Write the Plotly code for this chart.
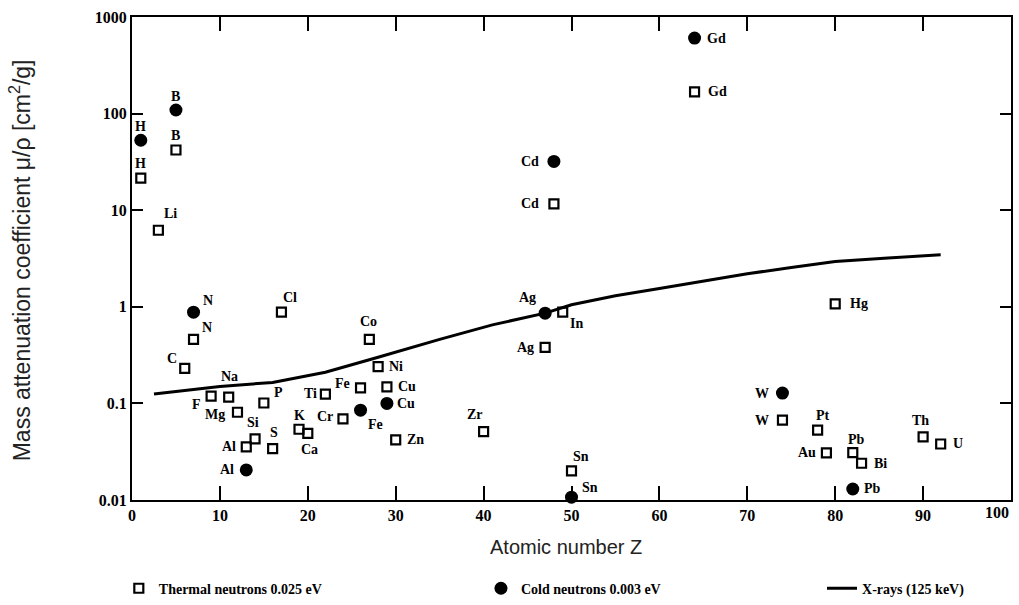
import numpy as np
import plotly.graph_objects as go

# Thermal neutrons (0.025 eV): element, atomic number, mass attenuation coefficient [cm^2/g]
thermal_el = ["H", "Li", "B", "C", "N", "F", "Na", "Mg", "Al", "Si", "P", "S", "Cl", "K", "Ca",
              "Ti", "Cr", "Fe", "Co", "Ni", "Cu", "Zn", "Zr", "Ag", "Cd", "In", "Sn", "Gd",
              "W", "Pt", "Au", "Hg", "Pb", "Bi", "Th", "U"]
thermal_z = [1, 3, 5, 6, 7, 9, 11, 12, 13, 14, 15, 16, 17, 19, 20,
             22, 24, 26, 27, 28, 29, 30, 40, 47, 48, 49, 50, 64,
             74, 78, 79, 80, 82, 83, 90, 92]
thermal_mu = [21.5, 6.2, 42, 0.23, 0.46, 0.119, 0.116, 0.081, 0.0354, 0.043, 0.101, 0.034, 0.88, 0.054, 0.049,
              0.125, 0.069, 0.145, 0.46, 0.24, 0.148, 0.042, 0.051, 0.38, 11.6, 0.88, 0.020, 168,
              0.067, 0.053, 0.0307, 1.07, 0.031, 0.024, 0.045, 0.038]

# Cold neutrons (0.003 eV)
cold_el = ["H", "B", "N", "Al", "Fe", "Cu", "Ag", "Cd", "Sn", "Gd", "W", "Pb"]
cold_z = [1, 5, 7, 13, 26, 29, 47, 48, 50, 64, 74, 82]
cold_mu = [53, 109, 0.88, 0.0205, 0.085, 0.10, 0.86, 32, 0.0107, 605, 0.128, 0.013]

# X-rays (125 keV) attenuation curve
xray_z = [2.5, 10, 16, 22, 28, 35, 41, 47, 50, 55, 60, 65, 70, 75, 80, 86, 92]
xray_mu = [0.125, 0.15, 0.165, 0.21, 0.30, 0.46, 0.65, 0.86, 1.05, 1.3, 1.55, 1.85, 2.2, 2.55, 2.95, 3.2, 3.45]

# Axis tick labels
x_tickvals = [0, 10, 20, 30, 40, 50, 60, 70, 80, 90]
x_last_label = 100
y_tickvals = [0.01, 0.1, 1, 10, 100, 1000]
y_ticktext = ["0.01", "0.1", "1", "10", "100", "1000"]

# Element-label placement (pixel offsets from each marker: right, down)
thermal_off = {
    "H": (0, -15), "Li": (12, -17), "B": (0, -14), "C": (-13, -10), "N": (13, -12),
    "F": (-15, 8), "Na": (1, -21), "Mg": (-22, 2), "Al": (-17, 0), "Si": (-2, -16),
    "P": (15, -10), "S": (1, -16), "Cl": (9, -15), "K": (0, -14), "Ca": (2, 16),
    "Ti": (-15, -1), "Cr": (-18, -2), "Fe": (-18, -4), "Co": (-1, -18), "Ni": (18, 0),
    "Cu": (20, 0), "Zn": (20, 0), "Zr": (-9, -17), "Ag": (-20, 0), "Cd": (-24, 0),
    "In": (14, 11), "Sn": (9, -14), "Gd": (23, 0), "W": (-20, 0), "Pt": (5, -15),
    "Au": (-19, 0), "Hg": (24, 0), "Pb": (4, -13), "Bi": (19, 0), "Th": (-3, -16),
    "U": (17, 0),
}
cold_off = {
    "H": (0, -14), "B": (0, -13), "N": (14, -12), "Al": (-19, 0), "Fe": (15, 14),
    "Cu": (19, 0), "Ag": (-18, -16), "Cd": (-24, 0), "Sn": (18, -10), "Gd": (22, 0),
    "W": (-20, 0), "Pb": (20, 0),
}

SERIF = "Liberation Serif"
SANS = "Liberation Sans"
LEG_FONT = dict(family=SERIF, size=14, color="black", weight="bold")

fig = go.Figure()

fig.add_trace(go.Scatter(
    x=thermal_z, y=thermal_mu, mode="markers", name="Thermal neutrons 0.025 eV",
    marker=dict(symbol="square-open", size=9, color="black", line=dict(width=2.2, color="black")),
    cliponaxis=False, legend="legend",
))
fig.add_trace(go.Scatter(
    x=cold_z, y=cold_mu, mode="markers", name="Cold neutrons 0.003 eV",
    marker=dict(symbol="circle", size=13, color="black"),
    cliponaxis=False, legend="legend2",
))
fig.add_trace(go.Scatter(
    x=xray_z, y=xray_mu, mode="lines", name="X-rays (125 keV)",
    line=dict(color="black", width=3), legend="legend3",
))

annotations = []
for names, zs, mus, offs in ((thermal_el, thermal_z, thermal_mu, thermal_off),
                             (cold_el, cold_z, cold_mu, cold_off)):
    for el, z, mu in zip(names, zs, mus):
        dx, dy = offs[el]
        annotations.append(dict(
            x=z, y=np.log10(mu), xref="x", yref="y", text=el, showarrow=False,
            xshift=dx, yshift=-dy,
            font=dict(family=SERIF, size=14, color="black", weight="bold"),
        ))

# Last x tick label, kept inside the page edge
annotations.append(dict(
    x=x_last_label, y=0, xref="x", yref="paper", xanchor="right", yanchor="top",
    text=str(x_last_label), showarrow=False, yshift=-2,
    font=dict(family=SERIF, size=16, color="black", weight="bold"),
))

# Axis titles
annotations.append(dict(
    x=0.494, y=-0.098, xref="paper", yref="paper", yanchor="middle",
    text="Atomic number Z", showarrow=False,
    font=dict(family=SANS, size=20, color="#222"),
))
annotations.append(dict(
    x=-0.127, y=0.497, xref="paper", yref="paper", xanchor="center",
    text="Mass attenuation coefficient \u03bc/\u03c1 [cm<sup>2</sup>/g]", showarrow=False,
    textangle=-90, font=dict(family=SANS, size=23, color="#222"),
))

# Legend row along the bottom of the page
leg_common = dict(orientation="h", xanchor="left", yref="container", y=0.027, yanchor="middle",
                  font=LEG_FONT, bgcolor="rgba(0,0,0,0)")

fig.update_layout(
    width=1019, height=605,
    margin=dict(l=132, r=8, t=17, b=105, autoexpand=False),
    paper_bgcolor="white", plot_bgcolor="white",
    showlegend=True,
    legend=dict(x=-0.015, **leg_common),
    legend2=dict(x=0.397, **leg_common),
    legend3=dict(x=0.785, **leg_common),
    annotations=annotations,
)

fig.update_xaxes(
    range=[0, 100], tickvals=x_tickvals,
    ticks="inside", ticklen=14, tickwidth=2, tickcolor="black",
    showline=True, linewidth=2, linecolor="black", mirror="ticks",
    showgrid=False, zeroline=False,
    tickfont=dict(family=SERIF, size=16, color="black", weight="bold"),
)
fig.update_yaxes(
    type="log", range=[-2, 3],
    tickvals=y_tickvals, ticktext=y_ticktext,
    ticks="inside", ticklen=11, tickwidth=2, tickcolor="black",
    showline=True, linewidth=2, linecolor="black", mirror="ticks",
    showgrid=False, zeroline=False,
    tickfont=dict(family=SERIF, size=16, color="black", weight="bold"),
)

fig.write_html("out.html")
